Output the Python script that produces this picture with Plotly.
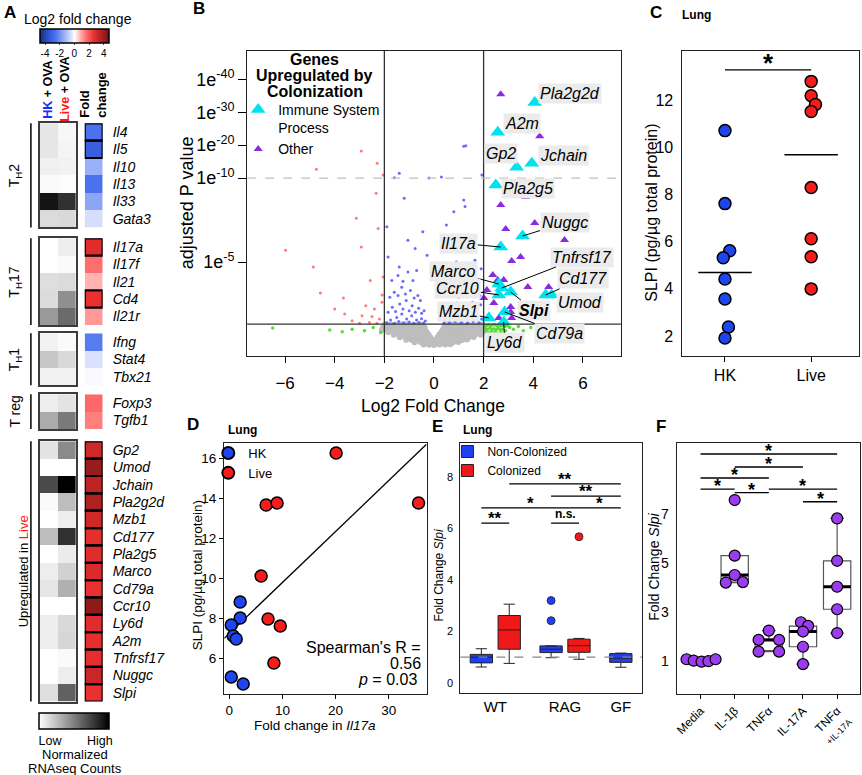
import numpy as np
import plotly.graph_objects as go

FONT = "Liberation Sans, Arial, Helvetica, sans-serif"
W, H = 862, 775

# ------------------------------------------------------------------ Panel A data
th2_genes = ["Il4", "Il5", "Il10", "Il13", "Il33", "Gata3"]
th2_hk    = [0.10, 0.10, 0.06, 0.02, 0.92, 0.14]
th2_live  = [0.03, 0.04, 0.05, 0.01, 0.81, 0.15]
th2_fc    = [-2.6, -3.2, -1.4, -2.6, -1.6, -0.5]

th17_genes = ["Il17a", "Il17f", "Il21", "Cd4", "Il21r"]
th17_hk    = [0.00, 0.00, 0.13, 0.14, 0.40]
th17_live  = [0.07, 0.02, 0.14, 0.44, 0.58]
th17_fc    = [2.8, 1.6, 0.8, 2.6, 1.1]

th1_genes = ["Ifng", "Stat4", "Tbx21"]
th1_hk    = [0.05, 0.22, 0.05]
th1_live  = [0.02, 0.15, 0.05]
th1_fc    = [-2.4, -0.45, -0.08]

treg_genes = ["Foxp3", "Tgfb1"]
treg_hk    = [0.07, 0.33]
treg_live  = [0.11, 0.52]
treg_fc    = [1.7, 1.4]

up_genes = ["Gp2", "Umod", "Jchain", "Pla2g2d", "Mzb1", "Cd177", "Pla2g5", "Marco",
            "Cd79a", "Ccr10", "Ly6d", "A2m", "Tnfrsf17", "Nuggc", "Slpi"]
up_hk   = [0.11, 0.00, 0.71, 0.02, 0.00, 0.26, 0.00, 0.07, 0.10, 0.00, 0.07, 0.07, 0.00, 0.00, 0.13]
up_live = [0.46, 0.00, 1.00, 0.26, 0.07, 0.81, 0.08, 0.18, 0.31, 0.00, 0.15, 0.16, 0.02, 0.07, 0.62]
up_fc   = [3.1, 4.1, 3.4, 3.7, 3.1, 2.7, 2.8, 2.9, 2.6, 4.3, 2.8, 2.7, 2.7, 3.2, 2.6]

boxed_genes = ["Il4", "Il5", "Il17a", "Cd4"] + up_genes
group_names = ["T<sub>H</sub>2", "T<sub>H</sub>17", "T<sub>H</sub>1", "T reg"]
fc_ticks = [-4, -2, 0, 2, 4]

# ------------------------------------------------------------------ Panel B data
gray_fc = [-1.98, -1.74, -1.52, -1.30, -1.07, -0.86, -0.63, -0.47, 0.52, 0.71, 0.93, 1.12, 1.36, 1.57, 1.78, 1.96,
           -2.05, -1.83, -1.61, -1.38, -1.16, -0.94, -0.72, -0.52, -0.38, 0.41, 0.60, 0.82, 1.03, 1.24, 1.46, 1.68, 1.88,
           -2.10, -1.88, -1.66, -1.43, -1.21, -0.99, -0.77, -0.56, -0.36, 0.36, 0.55, 0.76, 0.97, 1.18, 1.39, 1.61, 1.83, 2.00,
           -1.84, -1.60, -1.37, -1.14, -0.92, -0.70, -0.48, -0.29, 0.29, 0.47, 0.68, 0.89, 1.11, 1.32, 1.54, 1.76, 1.95,
           -1.62, -1.40, -1.17, -0.95, -0.73, -0.51, -0.31, -0.21, 0.21, 0.40, 0.60, 0.81, 1.02, 1.24, 1.45, 1.67, 1.88,
           -1.38, -1.16, -0.93, -0.71, -0.49, -0.30, -0.14, 0.14, 0.33, 0.53, 0.74, 0.96, 1.17, 1.39, 1.60,
           -1.12, -0.89, -0.66, -0.44, -0.24, -0.07, 0.07, 0.26, 0.47, 0.69, 0.91, 1.13, 1.33,
           -0.78, -0.55, -0.33, -0.12, 0.10, 0.31, 0.53, 0.76, 0.98,
           -0.42, -0.20, 0.00, 0.22, 0.45, 0.66]
gray_nlp = [1.26, 1.28, 1.25, 1.27, 1.29, 1.26, 1.27, 1.24, 1.25, 1.28, 1.26, 1.27, 1.29, 1.25, 1.27, 1.26,
            1.12, 1.14, 1.11, 1.13, 1.15, 1.12, 1.14, 1.11, 1.10, 1.12, 1.14, 1.13, 1.11, 1.15, 1.12, 1.14, 1.13,
            0.97, 0.99, 0.98, 0.96, 1.00, 0.98, 0.97, 0.99, 0.95, 0.96, 0.98, 1.00, 0.97, 0.99, 0.98, 0.96, 0.99, 0.97,
            0.82, 0.84, 0.83, 0.81, 0.85, 0.83, 0.82, 0.80, 0.81, 0.83, 0.84, 0.82, 0.85, 0.83, 0.81, 0.84, 0.82,
            0.67, 0.69, 0.68, 0.66, 0.70, 0.68, 0.67, 0.65, 0.66, 0.68, 0.69, 0.67, 0.70, 0.68, 0.66, 0.69, 0.67,
            0.52, 0.54, 0.51, 0.53, 0.52, 0.50, 0.49, 0.50, 0.52, 0.53, 0.51, 0.54, 0.52, 0.50, 0.53,
            0.37, 0.36, 0.38, 0.36, 0.37, 0.35, 0.36, 0.37, 0.38, 0.36, 0.37, 0.35, 0.38,
            0.22, 0.23, 0.21, 0.22, 0.20, 0.23, 0.22, 0.21, 0.23,
            0.08, 0.07, 0.05, 0.08, 0.09, 0.10]

green_fc = [-6.5, -4.2, -3.7, -3.3, -2.8, -2.45, -2.15,
            2.04, 2.12, 2.20, 2.28, 2.36, 2.44, 2.52, 2.60, 2.68, 2.76, 2.85, 2.95, 3.05,
            2.06, 2.16, 2.26, 2.34, 2.42, 2.50, 2.58, 2.66, 2.75, 2.88,
            2.10, 2.22, 2.32, 2.45, 2.55, 2.70,
            3.2, 3.4, 3.6, 3.9, 4.2]
green_nlp = [1.07, 0.95, 0.85, 1.00, 0.90, 1.10, 0.80,
             1.25, 1.22, 1.26, 1.20, 1.24, 1.27, 1.21, 1.25, 1.19, 1.23, 1.15, 1.20, 1.10,
             1.05, 1.00, 1.08, 0.98, 1.03, 0.95, 1.06, 0.97, 1.00, 0.90,
             0.85, 0.78, 0.88, 0.80, 0.75, 0.82,
             1.00, 1.15, 0.90, 1.10, 0.95]

blue_fc = [-1.9, -1.75, -1.6, -1.5, -1.42, -1.3, -1.22, -1.1, -1.0, -0.9, -0.8, -0.7, -0.6, -0.5, -0.42, -0.35,
           -1.85, -1.68, -1.55, -1.38, -1.25, -1.12, -1.0, -0.88, -0.75, -0.62, -0.5, -0.4,
           -1.78, -1.6, -1.45, -1.3, -1.15, -0.95, -0.8, -0.65, -0.55,
           -1.7, -1.45, -1.25, -1.05, -0.85, -0.7,
           -1.4, -0.76, -0.28, -1.9, -1.2, -1.6, -1.4, -1.85, -1.05, -0.45,
           0.4, 0.5, 0.62, 0.75, 0.85, 0.98, 1.1, 1.22, 1.35, 1.45, 1.58, 1.7, 1.82, 1.92,
           0.45, 0.6, 0.78, 0.92, 1.08, 1.25, 1.4, 1.55, 1.72, 1.88,
           0.55, 0.8, 1.0, 1.2, 1.42, 1.65, 1.85,
           0.7, 1.05, 1.35, 1.65, 1.9, 0.9,
           1.2, 0.8, 1.25, 1.93, 1.2, 1.28, 0.3, -0.2, 0.5]
blue_nlp = [1.40, 1.55, 1.35, 1.70, 1.45, 1.90, 1.38, 1.60, 1.42, 1.80, 1.35, 1.55, 1.40, 1.62, 1.36, 1.48,
            2.00, 2.30, 2.05, 2.50, 2.20, 2.70, 2.10, 2.40, 2.00, 2.25, 1.95, 2.10,
            2.90, 3.20, 3.00, 3.50, 3.10, 3.30, 2.85, 3.00, 2.70,
            3.90, 4.20, 3.85, 4.40, 3.90, 4.50,
            4.7, 5.8, 5.4, 7.1, 8.8, 10.1, 11.5, 5.3, 6.3, 6.8,
            1.38, 1.55, 1.40, 1.70, 1.45, 1.85, 1.40, 1.62, 1.36, 1.75, 1.45, 1.90, 1.40, 1.60,
            2.00, 2.30, 2.10, 2.55, 2.15, 2.40, 2.05, 2.60, 2.20, 2.45,
            3.00, 3.30, 2.90, 3.60, 3.10, 3.40, 3.00,
            4.00, 4.30, 3.95, 5.10, 4.60, 5.00,
            8.7, 8.0, 8.3, 10.9, 19.7, 19.8, 10.3, 10.0, 7.2]

red_fc = [-2.93, -2.29, -4.74, -2.05, -2.33, -3.13, -2.25, -2.93, -5.98, -4.86, -2.57, -2.05, -4.58, -3.65, -2.09,
          -3.3, -2.9, -2.6, -2.4, -2.2, -2.1, -2.75, -3.6, -2.3, -2.5, -4.0, -3.0]
red_nlp = [18.2, 14.5, 12.7, 10.9, 9.1, 7.6, 7.0, 5.9, 5.7, 4.7, 3.9, 4.1, 3.15, 2.86, 3.04,
           1.5, 1.8, 1.4, 2.2, 1.6, 2.6, 2.4, 1.9, 1.35, 1.75, 2.2, 1.35]

other_fc = [2.69, 4.26, 3.69, 2.69, 4.06, 2.89, 5.26, 3.13, 3.49, 2.37, 2.57, 2.81, 3.78, 4.62, 2.01, 3.09, 3.09,
            2.61, 3.13, 2.41, 2.13]
other_nlp = [35.5, 22.7, 8.87, 8.39, 7.32, 6.96, 6.31, 5.06, 5.30, 4.23, 3.93, 3.93, 3.51, 3.51, 2.86, 2.32, 2.02,
             1.67, 1.67, 2.56, 3.33]

imm_genes = ["Pla2g2d", "A2m", "Gp2", "Jchain", "Pla2g5", "Nuggc", "Il17a", "Marco", "Tnfrsf17", "Ccr10",
             "Slpi", "Cd177", "Umod", "Cd79a", "Mzb1", "Ly6d"]
imm_fc = [4.06, 2.57, 3.33, 3.94, 2.49, 3.57, 2.69, 2.61, 2.73, 2.61, 3.09, 4.50, 4.74, 2.85, 2.21, 2.81]
imm_nlp = [33.0, 23.9, 13.3, 14.5, 9.58, 6.55, 5.89, 3.69, 3.45, 3.04, 3.21, 3.04, 3.04, 2.02, 1.67, 1.43]

b_fc_cut = [-2, 2]
b_p_cut = 0.05
b_break = 10
b_xticks = [-6, -4, -2, 0, 2, 4, 6]
b_ytick_exp = [5, 10, 20, 30, 40]

# ------------------------------------------------------------------ Panel C data
c_groups = ["HK", "Live"]
c_hk = [10.72, 7.62, 5.62, 5.32, 4.42, 3.57, 2.38, 1.91]
c_live = [12.81, 12.2, 11.83, 11.53, 8.3, 6.13, 5.36, 4.0]
c_center = [4.7, 9.7]
c_sig = [(0, 1, 13.3, "*")]
c_yticks = [2, 4, 6, 8, 10, 12]

# ------------------------------------------------------------------ Panel D data
d_hk_fc = [2.06, 2.06, 0.38, 0.75, 1.31, 0.38, 2.63]
d_hk_slpi = [8.8, 8.0, 7.65, 7.1, 6.95, 5.05, 4.7]
d_live_fc = [20.1, 6.94, 9.0, 6.0, 7.3, 9.6, 8.4, 35.6]
d_live_slpi = [16.25, 13.65, 13.75, 10.1, 7.95, 7.6, 5.75, 13.75]
d_spearman_r = "0.56"
d_spearman_p = "0.03"

# ------------------------------------------------------------------ Panel E data
e_groups = ["WT", "RAG", "GF"]
e_nc_groups = ["WT", "RAG", "GF"]
e_nc_q1 = [0.78, 1.18, 0.80]
e_nc_med = [1.00, 1.31, 0.96]
e_nc_q3 = [1.11, 1.44, 1.14]
e_nc_lo = [0.62, 0.98, 0.61]
e_nc_hi = [1.33, 1.44, 1.16]
e_nc_out_groups = ["RAG", "RAG"]
e_nc_out = [3.2, 2.42]
e_c_groups = ["WT", "RAG"]
e_c_q1 = [1.31, 1.19]
e_c_med = [2.06, 1.45]
e_c_q3 = [2.62, 1.70]
e_c_lo = [0.76, 0.92]
e_c_hi = [3.06, 1.73]
e_c_out_groups = ["RAG"]
e_c_out = [5.68]
e_baseline = 1.0
e_sig = [(("WT", "c"), ("GF", "nc"), 7.73, "**"),
         (("RAG", "nc"), ("GF", "nc"), 7.26, "**"),
         (("WT", "nc"), ("RAG", "c"), 6.80, "*"),
         (("RAG", "c"), ("GF", "nc"), 6.80, "*"),
         (("WT", "nc"), ("WT", "c"), 6.21, "**"),
         (("RAG", "nc"), ("RAG", "c"), 6.21, "n.s.")]

# ------------------------------------------------------------------ Panel F data
f_conds = ["Media", "IL-1β", "TNFα", "IL-17A", "TNFα<br><span style='font-size:9px'>+IL-17A</span>"]
f_vals = [[1.07, 1.01, 0.97, 0.99, 1.07],
          [7.57, 5.30, 4.51, 4.20, 4.22],
          [2.24, 1.86, 1.86, 1.38, 1.38],
          [2.58, 2.43, 2.20, 1.58, 0.87],
          [6.82, 5.09, 4.03, 3.11, 2.14]]
f_q1 = [0.99, 4.22, 1.42, 1.58, 3.11]
f_med = [1.01, 4.51, 1.86, 2.20, 4.03]
f_q3 = [1.05, 5.30, 1.89, 2.42, 5.09]
f_lo = [0.97, 4.20, 1.38, 0.87, 2.14]
f_hi = [1.07, 5.30, 2.24, 2.58, 6.82]
f_sig = [(0, 4, 9.45), (1, 3, 8.92), (0, 2, 8.47), (0, 1, 8.02), (1, 2, 7.87), (2, 4, 8.02), (3, 4, 7.5)]
f_yticks = [1, 3, 5, 7]

# ================================================================== styling / layout positions
BLUE = "#1f45f0"
RED = "#f51c1c"
PURPLE = "#9b3cf0"
CYAN = "#00e3ee"
VIOLET = "#8a2be2"

fc_colorscale = [[0.0, "#1b2a80"], [0.128, "#2f55d6"], [0.223, "#4a72ee"], [0.34, "#92aaf6"],
                 [0.447, "#d6defc"], [0.5, "#ffffff"], [0.585, "#ffb3b3"], [0.67, "#ff6e6e"],
                 [0.777, "#ea3030"], [0.851, "#c42525"], [0.957, "#8e1a1a"], [1.0, "#701010"]]
gray_colorscale = [[0.0, "#ffffff"], [1.0, "#000000"]]
FC_LIM = 4.7

traces, annotations, shapes = [], [], []
layout = dict(width=W, height=H, margin=dict(l=0, r=0, t=0, b=0, pad=0), autosize=False,
              paper_bgcolor="white", plot_bgcolor="white",
              font=dict(family=FONT, color="black", size=13), showlegend=True)


def refs(i):
    return ("x", "y") if i == 1 else (f"x{i}", f"y{i}")


def axes(i, x0, x1, y0, y1, xo, yo):
    xr, yr = refs(i)
    kx = "xaxis" if i == 1 else f"xaxis{i}"
    ky = "yaxis" if i == 1 else f"yaxis{i}"
    base = dict(showgrid=False, zeroline=False, color="black", linecolor="black", tickcolor="black")
    xa = dict(base, domain=[x0 / W, x1 / W], anchor=yr)
    xa.update(xo)
    ya = dict(base, domain=[1 - y1 / H, 1 - y0 / H], anchor=xr)
    ya.update(yo)
    layout[kx] = xa
    layout[ky] = ya


def text(x, y, s, size, bold=False, angle=0, xanchor="center", yanchor="middle", color="black", align="center"):
    if bold:
        s = f"<b>{s}</b>"
    annotations.append(dict(x=x / W, y=1 - y / H, xref="paper", yref="paper", text=s, showarrow=False,
                            font=dict(family=FONT, size=size, color=color), textangle=angle,
                            xanchor=xanchor, yanchor=yanchor, align=align))


def sig_bars(i, bars, star_size, shift):
    xr, yr = refs(i)
    lx, ly = [], []
    for (a, b, yv, lab) in bars:
        lx += [a, b, None]
        ly += [yv, yv, None]
        annotations.append(dict(x=(a + b) / 2, y=yv, xref=xr, yref=yr, text=f"<b>{lab}</b>", showarrow=False,
                                yanchor="bottom", yshift=shift if lab != "n.s." else 0,
                                font=dict(family=FONT, size=star_size if lab != "n.s." else 12)))
    traces.append(go.Scatter(x=lx, y=ly, mode="lines", line=dict(color="black", width=1.3),
                             xaxis=xr, yaxis=yr, showlegend=False, hoverinfo="skip"))


frame = dict(showline=True, mirror=True, linecolor="#222", linewidth=1.3)

# ================================================================== Panel A
groups = [(th2_genes, th2_hk, th2_live, th2_fc), (th17_genes, th17_hk, th17_live, th17_fc),
          (th1_genes, th1_hk, th1_live, th1_fc), (treg_genes, treg_hk, treg_live, treg_fc),
          (up_genes, up_hk, up_live, up_fc)]
group_top_px = [123.3, 238.3, 333.3, 394.3, 441.3]
ROW = 17.35
for gi, (genes, hk, live, fc) in enumerate(groups):
    n = len(genes)
    top = group_top_px[gi]
    bot = top + n * ROW
    ig, ifc = 6 + gi, 11 + gi
    axes(ig, 37, 73, top, bot,
         dict(range=[-0.5, 1.5], showticklabels=False, ticks="", showline=True, mirror=True,
              linecolor="#3c3c3c", linewidth=1.6),
         dict(range=[n - 0.5, -0.5], showticklabels=False, ticks="", showline=True, mirror=True,
              linecolor="#3c3c3c", linewidth=1.6))
    xr, yr = refs(ig)
    hm = go.Heatmap(z=[[a, b] for a, b in zip(hk, live)], x=[0, 1], y=list(range(n)),
                    colorscale=gray_colorscale, zmin=0, zmax=1, xaxis=xr, yaxis=yr,
                    showscale=(gi == 4), hoverinfo="skip")
    if gi == 4:
        hm.colorbar = dict(orientation="h", x=36 / W, xanchor="left", y=1 - 713 / H, yanchor="top",
                           len=70, lenmode="pixels", thickness=16, thicknessmode="pixels", xpad=0, ypad=0,
                           outlinewidth=1.5, outlinecolor="black", tickvals=[0.16, 0.87],
                           ticktext=["Low", "High"], ticks="", tickfont=dict(size=12.5, family=FONT))
    traces.append(hm)

    axes(ifc, 82, 100, top, bot, dict(range=[-0.5, 0.5], visible=False),
         dict(range=[n - 0.5, -0.5], tickvals=list(range(n)), ticktext=[f"<i>{g}</i>" for g in genes],
              side="right", ticks="", ticklabelstandoff=9, tickfont=dict(size=14, family=FONT), showline=False))
    xr2, yr2 = refs(ifc)
    hf = go.Heatmap(z=[[v] for v in fc], x=[0], y=list(range(n)), colorscale=fc_colorscale,
                    zmin=-FC_LIM, zmax=FC_LIM, xaxis=xr2, yaxis=yr2, showscale=(gi == 0), hoverinfo="skip")
    if gi == 0:
        hf.colorbar = dict(orientation="h", x=37 / W, xanchor="left", y=1 - 29 / H, yanchor="top",
                           len=69, lenmode="pixels", thickness=14, thicknessmode="pixels", xpad=0, ypad=0,
                           outlinewidth=1.5, outlinecolor="black", tickvals=fc_ticks,
                           ticktext=[str(t) for t in fc_ticks], ticks="outside", ticklen=2,
                           tickfont=dict(size=10, family=FONT))
    traces.append(hf)
    for k, g in enumerate(genes):
        if g in boxed_genes:
            shapes.append(dict(type="rect", xref=xr2, yref=yr2, x0=-0.5, x1=0.5, y0=k - 0.5, y1=k + 0.5,
                               line=dict(color="black", width=2.2)))
    shapes.append(dict(type="line", xref="paper", yref="paper", x0=28 / W, x1=28 / W,
                       y0=1 - top / H, y1=1 - bot / H, line=dict(color="black", width=1.5)))
    if gi < 4:
        text(12, (top + bot) / 2, group_names[gi], 14, angle=-90)
    else:
        text(20, (top + bot) / 2, "Upregulated in <span style='color:#ff1a1a'>Live</span>", 13, angle=-90)

text(7, 12, "A", 17, bold=True)
text(75, 19, "Log2 fold change", 14)
text(45, 90, "<span style='color:#1a2cff'>HK</span> + OVA", 12.5, bold=True, angle=-90)
text(62, 89, "<span style='color:#ff1a1a'>Live</span> + OVA", 12.5, bold=True, angle=-90)
text(90, 95, "Fold<br>change", 13, bold=True, angle=-90, align="left")
text(72, 754, "Normalized", 13)
text(72, 768, "RNAseq Counts", 13)


# ================================================================== Panel B
def squash(v):
    v = np.asarray(v, dtype=float)
    return np.where(v <= b_break, v, b_break + (v - b_break) * 0.196)


axes(1, 245, 620, 51, 356,
     dict(frame, range=[-7.53, 7.53], tickvals=b_xticks, ticks="outside", ticklen=6, ticklabelstandoff=5,
          tickfont=dict(size=17, family=FONT)),
     dict(frame, range=[-0.6, 17.57], tickvals=list(squash(b_ytick_exp)),
          ticktext=[f"1e<sup>-{e}</sup>" for e in b_ytick_exp], ticks="outside", ticklen=8,
          tickfont=dict(size=18, family=FONT)))

traces.append(go.Scatter(x=gray_fc, y=squash(gray_nlp), mode="markers", showlegend=False, hoverinfo="skip",
                         marker=dict(size=6, color="#bdbdbd", line=dict(width=0))))
traces.append(go.Scatter(x=green_fc, y=squash(green_nlp), mode="markers", showlegend=False, hoverinfo="skip",
                         marker=dict(size=3.5, color="#55dd33", line=dict(width=0))))
traces.append(go.Scatter(x=blue_fc, y=squash(blue_nlp), mode="markers", showlegend=False, hoverinfo="skip",
                         marker=dict(size=3, color="#6a6aff", line=dict(width=0))))
traces.append(go.Scatter(x=red_fc, y=squash(red_nlp), mode="markers", showlegend=False, hoverinfo="skip",
                         marker=dict(size=3, color="#ff7a7a", line=dict(width=0))))
traces.append(go.Scatter(x=other_fc, y=squash(other_nlp), mode="markers", name="Other", legendrank=2,
                         marker=dict(size=8, color=VIOLET, symbol="triangle-up", line=dict(width=0))))
traces.append(go.Scatter(x=imm_fc, y=squash(imm_nlp), mode="markers", name="Immune System<br>Process",
                         legendrank=1,
                         marker=dict(size=13, color=CYAN, symbol="triangle-up", line=dict(width=0))))

for c in b_fc_cut:
    shapes.append(dict(type="line", xref="x", yref="y domain", x0=c, x1=c, y0=0, y1=1,
                       line=dict(color="#333", width=1.3)))
shapes.append(dict(type="line", xref="x domain", yref="y", x0=0, x1=1, y0=-np.log10(b_p_cut),
                   y1=-np.log10(b_p_cut), line=dict(color="#333", width=1.3)))
shapes.append(dict(type="line", xref="x domain", yref="y", x0=0, x1=1, y0=b_break, y1=b_break,
                   line=dict(color="#c0c0c0", width=1.2, dash="dash")))

label_dx = [35, 24, -16, 32, 32, 42, -42, -45, 80, -41, 23, 37, 28, 55, -30, 1]
label_dy = [-9, -9, -14, -8, 3, -13, -4, -12, -31, -6, 18, -16, 8, 21, -6, 21]
label_line = [False, False, False, False, False, True, True, True, True, True, True, True, False, True, True, True]
imm_y = squash(imm_nlp)
for g, xv, yv, dx, dy, ln in zip(imm_genes, imm_fc, imm_y, label_dx, label_dy, label_line):
    t = f"<b><i>{g}</i></b>" if g == "Slpi" else f"<i>{g}</i>"
    annotations.append(dict(x=xv, y=float(yv), xref="x", yref="y", text=t, showarrow=True, ax=dx, ay=dy,
                            arrowhead=0, arrowwidth=1, standoff=0,
                            arrowcolor="black" if ln else "rgba(0,0,0,0)",
                            bgcolor="#ebebeb", borderpad=1, font=dict(family=FONT, size=16)))

text(197, 9, "B", 17, bold=True)
text(432, 406, "Log2 Fold Change", 17.5)
text(185, 203, "adjusted P value", 18, angle=-90)
text(313, 60, "Genes", 16, bold=True)
text(313, 75, "Upregulated by", 16, bold=True)
text(313, 91, "Colonization", 16, bold=True)
layout["legend"] = dict(x=236 / W, y=1 - 94 / H, xanchor="left", yanchor="top", bgcolor="rgba(0,0,0,0)",
                        font=dict(size=14, family=FONT), itemsizing="trace", itemwidth=30, tracegroupgap=0,
                        valign="top")

# ================================================================== Panel C
axes(2, 681, 859, 51, 356,
     dict(frame, range=[0.497, 2.555], tickvals=[1, 2], ticktext=c_groups, ticks="outside", ticklen=5,
          tickfont=dict(size=16, family=FONT)),
     dict(frame, range=[1.15, 14.1], tickvals=c_yticks, ticks="", ticklabelstandoff=4,
          tickfont=dict(size=16, family=FONT)))
c_hk_jit = [0, 0, 0.055, -0.02, 0, 0, 0.04, 0]
c_live_jit = [0, 0, 0.05, 0, 0, 0, 0, 0]
cl_x, cl_y = [], []
for k, cv in enumerate(c_center):
    cl_x += [k + 1 - 0.31, k + 1 + 0.31, None]
    cl_y += [cv, cv, None]
traces.append(go.Scatter(x=cl_x, y=cl_y, mode="lines", line=dict(color="black", width=1.5),
                         xaxis="x2", yaxis="y2", showlegend=False, hoverinfo="skip"))
traces.append(go.Scatter(x=[1 + j for j in c_hk_jit], y=c_hk, mode="markers", xaxis="x2", yaxis="y2",
                         showlegend=False, marker=dict(size=12, color=BLUE, line=dict(color="black", width=1.5))))
traces.append(go.Scatter(x=[2 + j for j in c_live_jit], y=c_live, mode="markers", xaxis="x2", yaxis="y2",
                         showlegend=False, marker=dict(size=12, color=RED, line=dict(color="black", width=1.5))))
sig_bars(2, [(a + 1, b + 1, yv, lab) for (a, b, yv, lab) in c_sig], 26, -10)
text(655, 12, "C", 17, bold=True)
text(696, 15, "Lung", 12, bold=True)
text(650, 213, "SLPI (pg/µg total protein)", 16, angle=-90)

# ================================================================== Panel D
d_xrange = [-0.94, 37.1]
axes(3, 222, 425, 443, 694,
     dict(frame, range=d_xrange, tickvals=[0, 10, 20, 30], ticks="outside", ticklen=4,
          tickfont=dict(size=13.5, family=FONT)),
     dict(frame, range=[4.2, 16.75], tickvals=[6, 8, 10, 12, 14, 16], ticks="outside", ticklen=4,
          tickfont=dict(size=13.5, family=FONT)))
slope, intercept = np.polyfit(d_hk_fc + d_live_fc, d_hk_slpi + d_live_slpi, 1)
traces.append(go.Scatter(x=d_xrange, y=[intercept + slope * v for v in d_xrange], mode="lines",
                         line=dict(color="black", width=1.3), xaxis="x3", yaxis="y3", showlegend=False,
                         hoverinfo="skip"))
traces.append(go.Scatter(x=d_hk_fc, y=d_hk_slpi, mode="markers", name="HK", legend="legend2", xaxis="x3",
                         yaxis="y3", marker=dict(size=12, color=BLUE, line=dict(color="black", width=1.5))))
traces.append(go.Scatter(x=d_live_fc, y=d_live_slpi, mode="markers", name="Live", legend="legend2", xaxis="x3",
                         yaxis="y3", marker=dict(size=12, color=RED, line=dict(color="black", width=1.5))))
layout["legend2"] = dict(x=206 / W, y=1 - 438 / H, xanchor="left", yanchor="top", bgcolor="rgba(0,0,0,0)",
                         font=dict(size=13, family=FONT), itemsizing="constant", itemwidth=30, tracegroupgap=0)
text(191, 425, "D", 17, bold=True)
text(240, 430, "Lung", 12, bold=True)
text(313, 725, "Fold change in <i>Il17a</i>", 13.5)
text(195, 575, "SLPI (pg/µg total protein)", 13.5, angle=-90)
text(421, 647, "Spearman's R =", 16, xanchor="right")
text(421, 663, d_spearman_r, 16, xanchor="right")
text(417, 679, f"<i>p</i> = {d_spearman_p}", 16, xanchor="right")

# ================================================================== Panel E
e_pos = {("WT", "nc"): 0, ("WT", "c"): 1, ("RAG", "nc"): 2.5, ("RAG", "c"): 3.5, ("GF", "nc"): 5}
e_tick_pos = [0.5, 3, 5]
axes(4, 459, 641, 443, 693,
     dict(frame, range=[-0.75, 5.75], tickvals=e_tick_pos, ticktext=e_groups, ticks="",
          tickfont=dict(size=15, family=FONT)),
     dict(frame, range=[-0.39, 9.32], tickvals=[0, 2, 4, 6, 8], ticks="", ticklabelstandoff=4,
          tickfont=dict(size=11, family=FONT)))
traces.append(go.Box(x=[e_pos[(g, "nc")] for g in e_nc_groups], q1=e_nc_q1, median=e_nc_med, q3=e_nc_q3,
                     lowerfence=e_nc_lo, upperfence=e_nc_hi, name="Non-Colonized", legend="legend3",
                     fillcolor="#1f3ff5", line=dict(color="#222", width=1), width=0.8, whiskerwidth=0.5,
                     boxpoints=False, xaxis="x4", yaxis="y4", hoverinfo="skip"))
traces.append(go.Box(x=[e_pos[(g, "c")] for g in e_c_groups], q1=e_c_q1, median=e_c_med, q3=e_c_q3,
                     lowerfence=e_c_lo, upperfence=e_c_hi, name="Colonized", legend="legend3",
                     fillcolor="#f01818", line=dict(color="#222", width=1), width=0.8, whiskerwidth=0.5,
                     boxpoints=False, xaxis="x4", yaxis="y4", hoverinfo="skip"))
traces.append(go.Scatter(x=[e_pos[(g, "nc")] for g in e_nc_out_groups], y=e_nc_out, mode="markers",
                         xaxis="x4", yaxis="y4", showlegend=False,
                         marker=dict(size=8, color="#1f3ff5", line=dict(color="#222", width=0.8))))
traces.append(go.Scatter(x=[e_pos[(g, "c")] for g in e_c_out_groups], y=e_c_out, mode="markers",
                         xaxis="x4", yaxis="y4", showlegend=False,
                         marker=dict(size=8, color="#f01818", line=dict(color="#222", width=0.8))))
shapes.append(dict(type="line", xref="x4 domain", yref="y4", x0=0, x1=1, y0=e_baseline, y1=e_baseline,
                   line=dict(color="#888", width=1.2, dash="dash")))
sig_bars(4, [(e_pos[a], e_pos[b], yv, lab) for (a, b, yv, lab) in e_sig], 17, -7)
layout["legend3"] = dict(x=446 / W, y=1 - 437 / H, xanchor="left", yanchor="top", bgcolor="rgba(0,0,0,0)",
                         font=dict(size=12, family=FONT), itemwidth=30, tracegroupgap=0)
text(436, 426, "E", 17, bold=True)
text(476, 430, "Lung", 12, bold=True)
text(438, 575, "Fold Change <i>Slpi</i>", 12, angle=-90)

# ================================================================== Panel F
axes(5, 676, 860, 443, 694,
     dict(frame, range=[-0.7, 4.67], tickvals=list(range(len(f_conds))), ticktext=f_conds, tickangle=-45,
          ticks="outside", ticklen=4, tickfont=dict(size=12, family=FONT)),
     dict(frame, range=[-0.35, 9.9], tickvals=f_yticks, ticks="", ticklabelstandoff=4,
          tickfont=dict(size=14, family=FONT)))
f_x = list(range(len(f_conds)))
traces.append(go.Box(x=f_x, q1=f_q1, median=f_med, q3=f_q3, lowerfence=f_lo, upperfence=f_hi,
                     fillcolor="white", line=dict(color="#555", width=1.2), width=0.8, whiskerwidth=0.5,
                     boxpoints=False, xaxis="x5", yaxis="y5", showlegend=False, hoverinfo="skip"))
traces.append(go.Box(x=f_x, q1=f_med, median=f_med, q3=f_med, lowerfence=f_med, upperfence=f_med,
                     fillcolor="rgba(0,0,0,0)", line=dict(color="black", width=3), width=0.8, whiskerwidth=0,
                     boxpoints=False, xaxis="x5", yaxis="y5", showlegend=False, hoverinfo="skip"))
f_jitter = [[-0.41, -0.2, 0.03, 0.23, 0.44], [0, 0, 0, -0.26, 0.24], [0, -0.3, 0.3, -0.3, 0.3],
            [-0.06, 0.15, 0, 0, 0], [0, 0, 0, 0, 0]]
fx_pts, fy_pts = [], []
for k, (vals, jit) in enumerate(zip(f_vals, f_jitter)):
    fx_pts += [k + j for j in jit]
    fy_pts += vals
traces.append(go.Scatter(x=fx_pts, y=fy_pts, mode="markers", xaxis="x5", yaxis="y5", showlegend=False,
                         marker=dict(size=11, color=PURPLE, line=dict(color="black", width=1.2))))
sig_bars(5, [(a, b, yv, "*") for (a, b, yv) in f_sig], 18, -9)
text(660, 426, "F", 17, bold=True)
text(653, 567, "Fold Change <i>Slpi</i>", 14, angle=-90)

layout["annotations"] = annotations
layout["shapes"] = shapes
fig = go.Figure(data=traces, layout=layout)
fig.write_html("out.html", config={"displayModeBar": False},
               post_script="document.body.style.margin='0px';document.body.style.overflow='hidden';")
